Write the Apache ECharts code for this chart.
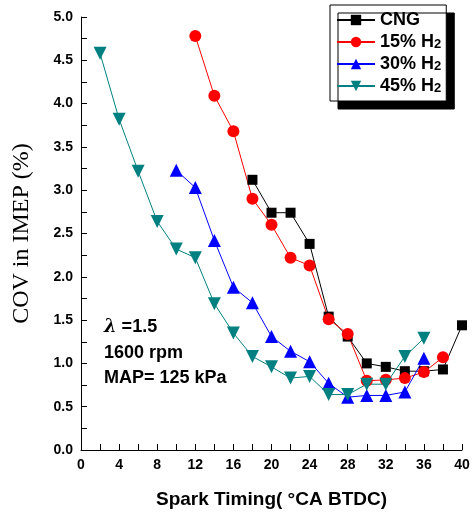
<!DOCTYPE html>
<html><head><meta charset="utf-8">
<script src="https://cdn.jsdelivr.net/npm/echarts@6/dist/echarts.min.js"></script>
<style>html,body{margin:0;padding:0;background:#fff}#c{width:474px;height:514px}</style>
</head><body><div id="c"></div>
<script>
const cngX = [18,20,22,24,26,28,30,32,34,36,38,40];
const cngY = [3.12,2.74,2.74,2.38,1.54,1.31,1.00,0.96,0.91,0.91,0.93,1.44];
const h15X = [12,14,16,18,20,22,24,26,28,30,32,34,36,38];
const h15Y = [4.78,4.09,3.68,2.90,2.60,2.22,2.13,1.51,1.34,0.80,0.81,0.83,0.90,1.07];
const h30X = [10,12,14,16,18,20,22,24,26,28,30,32,34,36];
const h30Y = [3.23,3.03,2.42,1.88,1.70,1.31,1.14,1.02,0.77,0.61,0.63,0.63,0.67,1.06];
const h45X = [2,4,6,8,10,12,14,16,18,20,22,24,26,28,30,32,34,36];
const h45Y = [4.58,3.82,3.22,2.64,2.32,2.22,1.69,1.35,1.08,0.96,0.83,0.85,0.64,0.64,0.76,0.76,1.08,1.29];
const names = ['CNG','15% H2','30% H2','45% H2'];
const xTicks = [0,4,8,12,16,20,24,28,32,36,40];

const pair = (xs, ys) => xs.map((x,i)=>[x, ys[i]]);
const chart = echarts.init(document.getElementById('c'));
const mk = (name, data, color, symbol, size) => ({
  name, type:'line', data, symbol, symbolSize:size,
  lineStyle:{color, width:1}, itemStyle:{color}, color
});
chart.setOption({
  animation:false,
  grid:{left:81, right:12, top:17, bottom:64, containLabel:false, outerBoundsMode:'none'},
  xAxis:{type:'value', min:0, max:40, interval:4,
    axisLine:{lineStyle:{color:'#000', width:1}},
    axisTick:{inside:true, length:6, lineStyle:{color:'#000'}},
    minorTick:{show:true, splitNumber:2, length:6, lineStyle:{color:'#000'}},
    splitLine:{show:false},
    axisLabel:{color:'#000', fontFamily:'Liberation Sans', fontWeight:'bold', fontSize:14, margin:8,
      formatter:v=>xTicks.includes(v)?String(v):''},
    name:'Spark Timing( °CA BTDC)', nameLocation:'middle', nameGap:40,
    nameTextStyle:{color:'#000', fontFamily:'Liberation Sans', fontWeight:'bold', fontSize:19}
  },
  yAxis:{type:'value', min:0, max:5, interval:0.5,
    axisLine:{show:true, lineStyle:{color:'#000', width:1}},
    axisTick:{show:true, inside:true, length:6, lineStyle:{color:'#000'}},
    minorTick:{show:true, splitNumber:2, length:6, lineStyle:{color:'#000'}},
    splitLine:{show:false},
    axisLabel:{color:'#000', fontFamily:'Liberation Sans', fontWeight:'bold', fontSize:14, margin:8,
      formatter:v=>v.toFixed(1)},
    name:'COV in IMEP (%)', nameLocation:'middle', nameGap:47,
    nameTextStyle:{color:'#000', fontFamily:'Liberation Serif', fontSize:24}
  },
  legend:{
    left:330, top:5, orient:'vertical', width:100,
    backgroundColor:'#fff', borderColor:'#000', borderWidth:1,
    shadowColor:'#000', shadowBlur:0, shadowOffsetX:8, shadowOffsetY:8,
    padding:[6,5,6,6], itemGap:4, itemWidth:38, itemHeight:13,
    data:names,
    formatter:n=>n.endsWith(' H2')?'{a|'+n.slice(0,-1)+'}{s|2}':'{a|'+n+'}',
    textStyle:{color:'#000', rich:{
      a:{fontFamily:'Liberation Sans', fontWeight:'bold', fontSize:18, color:'#000', lineHeight:18},
      s:{fontFamily:'Liberation Sans', fontWeight:'bold', fontSize:13, color:'#000', lineHeight:18, verticalAlign:'bottom'}
    }}
  },
  series:[
    mk(names[0], pair(cngX,cngY), '#000000', 'rect', 10),
    mk(names[1], pair(h15X,h15Y), '#ff0000', 'circle', 12),
    mk(names[2], pair(h30X,h30Y), '#0000ff', 'triangle', 13),
    mk(names[3], pair(h45X,h45Y), '#008080', 'path://M0,0 L10,0 L5,9 Z', 13)
  ],
  graphic:[
    {type:'text', left:104, top:318, style:{text:'{l|λ}{t| =1.5}', rich:{
      l:{fontFamily:'DejaVu Serif', fontStyle:'italic', fontWeight:'bold', fontSize:18, fill:'#000'},
      t:{fontFamily:'Liberation Sans', fontWeight:'bold', fontSize:18, fill:'#000'}}}},
    {type:'text', left:104, top:344, style:{text:'1600 rpm', font:'bold 18px "Liberation Sans"', fill:'#000'}},
    {type:'text', left:104, top:369, style:{text:'MAP= 125 kPa', font:'bold 18px "Liberation Sans"', fill:'#000'}}
  ]
});
</script></body></html>
